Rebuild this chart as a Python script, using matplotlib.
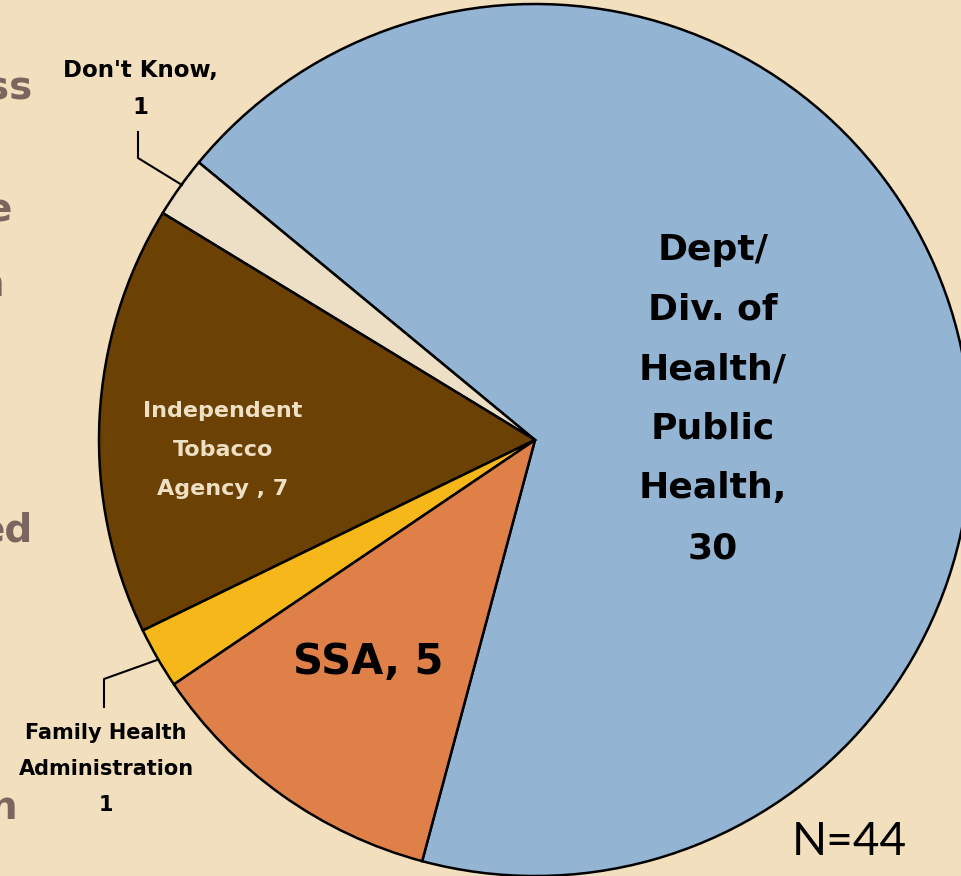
import matplotlib
matplotlib.use("Agg")
import matplotlib.pyplot as plt
import numpy as np

categories = ["Dept/\nDiv. of\nHealth/\nPublic\nHealth,\n30", "Don't Know,\n1",
              "Independent\nTobacco\nAgency , 7", "Family Health\nAdministration\n1", "SSA, 5"]
values = [30, 1, 7, 1, 5]
colors = ["#94B4D4", "#EDDFC5", "#6C4104", "#F5B719", "#DF8049"]
side_texts = ["ss", "e", "n", "ed", "n"]

BG = "#F2DFBD"
W, H = 962, 876
fig = plt.figure(figsize=(W / 100, H / 100), dpi=100)
fig.patch.set_facecolor(BG)
ax = fig.add_axes([0, 0, 1, 1])

cx, cy, r = 535, H - 440, 436
ax.pie(values, colors=colors, startangle=-105, counterclock=True,
       center=(cx, cy), radius=r, frame=True,
       wedgeprops=dict(edgecolor="black", linewidth=1.8))
ax.set_xlim(0, W)
ax.set_ylim(0, H)
ax.set_aspect("equal")
ax.axis("off")

FONT = "DejaVu Sans"

# Dept label
ax.text(713, H - 399, categories[0], ha="center", va="center", fontsize=26,
        fontweight="bold", family=FONT, linespacing=1.95, color="black")
# SSA
ax.text(368, H - 662, categories[4], ha="center", va="center", fontsize=30,
        fontweight="bold", family=FONT, color="black")
# Independent
ax.text(223, H - 450, categories[2], ha="center", va="center", fontsize=16,
        fontweight="bold", family=FONT, linespacing=2.2, color="#EEDFC5")
# Don't know
ax.text(140, H - 89, categories[1], ha="center", va="center", fontsize=16.5,
        fontweight="bold", family=FONT, linespacing=1.75, color="black")
ax.plot([138, 138, 182], [H - 132, H - 158, H - 185], color="black", lw=1.5)
# Family health
ax.text(106, H - 769, categories[3], ha="center", va="center", fontsize=15,
        fontweight="bold", family=FONT, linespacing=2.0, color="black")
ax.plot([104, 104, 157], [H - 707, H - 679, H - 660], color="black", lw=1.5)

# N
ax.text(849, H - 842, "N=44", ha="center", va="center", fontsize=33,
        family="Lato", color="black")

# partially visible text on the left
ys = [88, 210, 285, 530, 808]
xs = [32, 12, 4, 33, 17]
for t, x, y in zip(side_texts, xs, ys):
    ax.text(x, H - y, t, ha="right", va="center", fontsize=28,
            fontweight="bold", family=FONT, color="#7A665E")

fig.savefig("out.png", dpi=100, facecolor=BG)
